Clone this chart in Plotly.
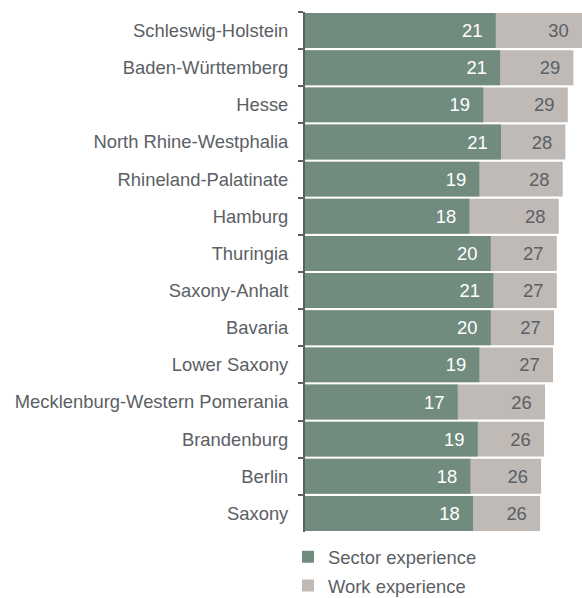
import plotly.graph_objects as go

states = ["Schleswig-Holstein", "Baden-Württemberg", "Hesse", "North Rhine-Westphalia",
          "Rhineland-Palatinate", "Hamburg", "Thuringia", "Saxony-Anhalt", "Bavaria",
          "Lower Saxony", "Mecklenburg-Western Pomerania", "Brandenburg", "Berlin", "Saxony"]
sector_experience = [20.8, 21.27, 19.44, 21.37, 19.01, 17.92, 20.25, 20.53, 20.25, 19.01,
                     16.65, 18.83, 18.03, 18.32]
work_experience = [30.2, 29.26, 28.65, 28.39, 28.10, 27.67, 27.45, 27.45, 27.15, 27.04,
                   26.17, 26.06, 25.74, 25.63]

GREEN = "#718b7f"
GREY = "#bfbab6"
TEXT = "#5b6065"
FONT = "Liberation Sans, Arial, sans-serif"
PAD = "\u00a0\u00a0"

fig = go.Figure()
fig.add_trace(go.Bar(
    y=states, x=work_experience, orientation="h", name="Work experience",
    marker=dict(color=GREY, line=dict(width=0)),
    texttemplate="%{x:.0f}" + PAD, textposition="inside", insidetextanchor="end",
    textangle=0, constraintext="none",
    textfont=dict(color=TEXT, size=18.4, family=FONT),
    legendrank=2, legendgroup="w",
))
fig.add_trace(go.Bar(
    y=states, x=sector_experience, orientation="h", name="Sector experience",
    marker=dict(color=GREEN, line=dict(width=0)),
    texttemplate="%{x:.0f}" + PAD, textposition="inside", insidetextanchor="end",
    textangle=0, constraintext="none",
    textfont=dict(color="white", size=18.4, family=FONT),
    legendrank=1, legendgroup="s",
))

fig.update_layout(
    width=582, height=598,
    margin=dict(l=305, r=0, t=12, b=66, autoexpand=False),
    barmode="overlay", bargap=0.06,
    paper_bgcolor="white", plot_bgcolor="white",
    font=dict(family=FONT, size=18.4, color=TEXT),
    showlegend=True,
    legend=dict(
        orientation="v", xref="container", yref="container",
        x=0.4948, xanchor="left", y=0.1, yanchor="top",
        font=dict(size=18.4, color=TEXT, family=FONT),
        traceorder="grouped", tracegroupgap=2, bgcolor="rgba(0,0,0,0)",
    ),
    xaxis=dict(range=[0, 30.2], visible=False, fixedrange=True),
    yaxis=dict(
        autorange="reversed", type="category",
        showline=True, linecolor="#5b6068", linewidth=2,
        ticks="outside", tickson="boundaries", ticklen=5, tickcolor="#5b6068", tickwidth=1.5,
        tickfont=dict(size=18.4, color=TEXT, family=FONT),
        ticklabelstandoff=11, showgrid=False, zeroline=False,
    ),
)

fig.write_html("out.html")
